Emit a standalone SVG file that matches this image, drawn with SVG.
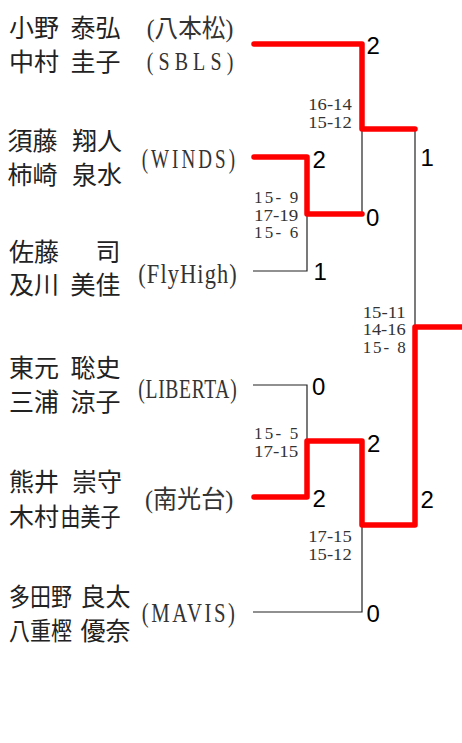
<svg xmlns="http://www.w3.org/2000/svg" width="462" height="743" viewBox="0 0 462 743">
<style>
.nm{font-family:"Noto Sans CJK JP","Noto Sans",sans-serif;font-size:25px;fill:#222}
.tm{font-family:"Liberation Serif","Noto Sans CJK JP",serif;fill:#333}
.sc{font-family:"Liberation Sans",Arial,sans-serif;font-size:24px;fill:#000}
.ss{font-family:"Liberation Serif",serif;font-size:17px;fill:#333}
.win{fill:none;stroke:#ff0000;stroke-width:5.5;stroke-linecap:round;stroke-linejoin:round}
.ln{fill:none;stroke:#222;stroke-width:1.2}
</style>
<rect width="462" height="743" fill="#fff"/>
<g id="connectors">
<path class="ln" d="M362,129 V214"/>
<path class="ln" d="M253,271 H307 V214"/>
<path class="ln" d="M415,129 V327"/>
<path class="ln" d="M253,385 H307 V441"/>
<path class="ln" d="M253,612 H362 V525"/>
<path class="win" d="M254,44 H362 V129 H415"/>
<path class="win" d="M254,157 H307 V214 H362"/>
<path class="win" d="M465,327 H415 V525 H362 V441 H307 V497 H254"/>
</g>
<g id="node-hachihonmatsu">
<text class="nm" x="9" y="37">小野 <tspan x="70.5">泰弘</tspan></text>
<text class="nm" x="9" y="70.5">中村 <tspan x="70.5">圭子</tspan></text>
<text class="tm" x="146.7" y="36.5" font-size="25" textLength="86.6" lengthAdjust="spacingAndGlyphs">(八本松)</text>
<text class="tm" transform="translate(146.7,70) scale(0.8,1)" x="0" y="0" font-size="25" textLength="108.3" lengthAdjust="spacing">(SBLS)</text>
</g>
<g id="node-winds">
<text class="nm" x="7.5" y="149.5">須藤 <tspan x="72">翔人</tspan></text>
<text class="nm" x="7.5" y="183.5">柿崎 <tspan x="72">泉水</tspan></text>
<text class="tm" transform="translate(141.7,168) scale(0.68,1)" x="0" y="0" font-size="28" textLength="137.2" lengthAdjust="spacing">(WINDS)</text>
</g>
<g id="node-flyhigh">
<text class="nm" x="9" y="261">佐藤 <tspan x="95.5">司</tspan></text>
<text class="nm" x="9" y="293.5">及川 <tspan x="70.5">美佳</tspan></text>
<text class="tm" transform="translate(138.3,283) scale(0.8,1)" x="0" y="0" font-size="28" textLength="123" lengthAdjust="spacing">(FlyHigh)</text>
</g>
<g id="node-liberta">
<text class="nm" x="9" y="377">東元 <tspan x="70.5">聡史</tspan></text>
<text class="nm" x="9" y="410.5">三浦 <tspan x="70.5">涼子</tspan></text>
<text class="tm" transform="translate(138.3,398) scale(0.7,1)" x="0" y="0" font-size="28" textLength="140.6" lengthAdjust="spacing">(LIBERTA)</text>
</g>
<g id="node-nankodai">
<text class="nm" x="9" y="491">熊井 <tspan x="72">崇守</tspan></text>
<text class="nm" x="9" y="525.5">木村 <tspan x="60.5" textLength="60" lengthAdjust="spacingAndGlyphs">由美子</tspan></text>
<text class="tm" x="145" y="507.8" font-size="25" textLength="88.3" lengthAdjust="spacingAndGlyphs">(南光台)</text>
</g>
<g id="node-mavis">
<text class="nm" x="9" y="605.5"><tspan textLength="63" lengthAdjust="spacingAndGlyphs">多田野</tspan> <tspan x="80.5">良太</tspan></text>
<text class="nm" x="9" y="639.5"><tspan textLength="63" lengthAdjust="spacingAndGlyphs">八重樫</tspan> <tspan x="80.5">優奈</tspan></text>
<text class="tm" transform="translate(141.7,621.7) scale(0.74,1)" x="0" y="0" font-size="28" textLength="126.1" lengthAdjust="spacing">(MAVIS)</text>
</g>
<g id="scores">
<text class="sc" x="366.5" y="54">2</text>
<text class="sc" x="312.5" y="168">2</text>
<text class="sc" x="366" y="225.5">0</text>
<text class="sc" x="420.5" y="166">1</text>
<text class="sc" x="313.5" y="280">1</text>
<text class="sc" x="312" y="395">0</text>
<text class="sc" x="367" y="451.5">2</text>
<text class="sc" x="312.5" y="507">2</text>
<text class="sc" x="420.5" y="508">2</text>
<text class="sc" x="366.5" y="621.5">0</text>
</g>
<g id="set-scores">
<text class="ss" x="308.3" y="109.5" textLength="43.4" lengthAdjust="spacingAndGlyphs">16-14</text>
<text class="ss" x="308.3" y="127.5" textLength="43.4" lengthAdjust="spacingAndGlyphs">15-12</text>
<text class="ss" x="254" y="202.8" textLength="44.3" lengthAdjust="spacing">15- 9</text>
<text class="ss" x="254" y="220.5" textLength="44.3" lengthAdjust="spacingAndGlyphs">17-19</text>
<text class="ss" x="254" y="238.2" textLength="44.3" lengthAdjust="spacing">15- 6</text>
<text class="ss" x="362.7" y="317.5" textLength="43" lengthAdjust="spacingAndGlyphs">15-11</text>
<text class="ss" x="362.7" y="335" textLength="43" lengthAdjust="spacingAndGlyphs">14-16</text>
<text class="ss" x="362.7" y="352.5" textLength="43" lengthAdjust="spacing">15- 8</text>
<text class="ss" x="254" y="439" textLength="44.3" lengthAdjust="spacing">15- 5</text>
<text class="ss" x="254" y="456.7" textLength="44.3" lengthAdjust="spacingAndGlyphs">17-15</text>
<text class="ss" x="308.3" y="541.7" textLength="43.4" lengthAdjust="spacingAndGlyphs">17-15</text>
<text class="ss" x="308.3" y="560" textLength="43.4" lengthAdjust="spacingAndGlyphs">15-12</text>
</g>
</svg>
